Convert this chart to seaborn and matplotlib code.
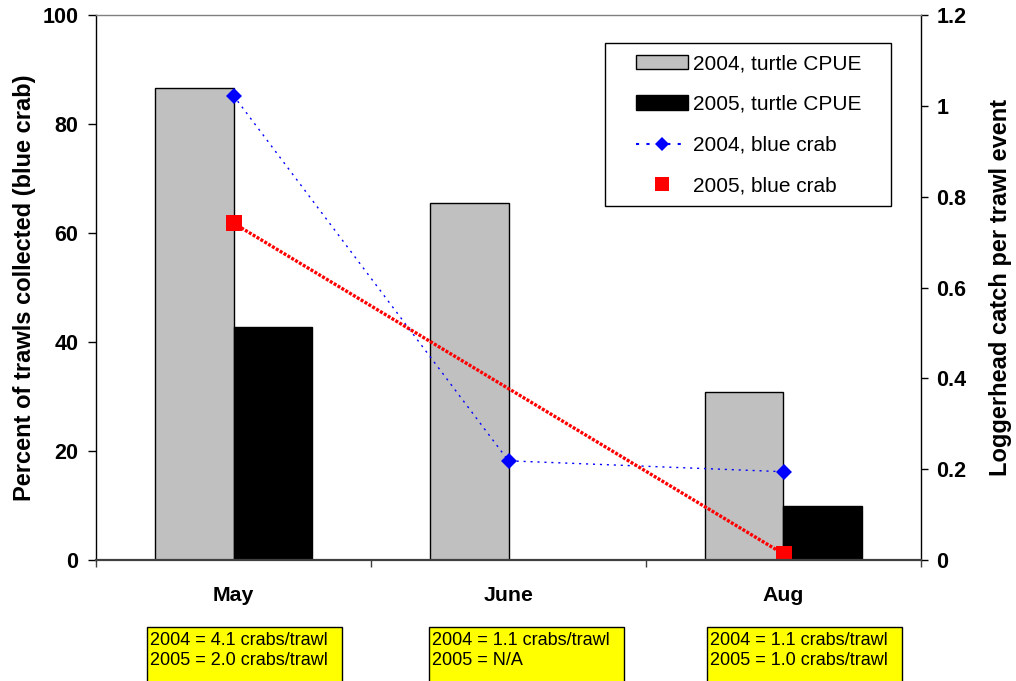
import numpy as np
import pandas as pd
import matplotlib
matplotlib.use("Agg")
import matplotlib.pyplot as plt
from matplotlib.patches import Patch, Rectangle
from matplotlib.lines import Line2D
from matplotlib.ticker import FuncFormatter
import seaborn as sns

# ---------------- data ----------------
months = ["May", "June", "Aug"]
turtle_cpue_2004 = [1.039, 0.786, 0.371]          # right axis
turtle_cpue_2005 = [0.514, np.nan, 0.120]         # right axis (June N/A)
blue_crab_2004 = [85.2, 18.2, 16.2]               # left axis, percent
blue_crab_2005 = [61.8, np.nan, 1.1]              # left axis, percent (June N/A)
left_ticks = [0, 20, 40, 60, 80, 100]
right_ticks = [0, 0.2, 0.4, 0.6, 0.8, 1.0, 1.2]
notes_2004 = ["2004 = 4.1 crabs/trawl", "2004 = 1.1 crabs/trawl", "2004 = 1.1 crabs/trawl"]
notes_2005 = ["2005 = 2.0 crabs/trawl", "2005 = N/A", "2005 = 1.0 crabs/trawl"]
legend_labels = ["2004, turtle CPUE", "2005, turtle CPUE", "2004, blue crab", "2005, blue crab"]
left_label = "Percent of trawls collected (blue crab)"
right_label = "Loggerhead catch per trawl event"

# ---------------- style ----------------
sns.set_style("ticks")
plt.rcParams["font.family"] = ["Liberation Sans", "DejaVu Sans"]
for k in ["text.color", "axes.labelcolor", "xtick.color", "ytick.color", "axes.edgecolor"]:
    plt.rcParams[k] = "black"

W, H = 1016, 681
fig = plt.figure(figsize=(W / 100, H / 100), dpi=100)
L, R, T, B = 96, 921, 15, 560
ax = fig.add_axes([L / W, (H - B) / H, (R - L) / W, (B - T) / H])
ax2 = ax.twinx()

# bars (right axis)
bars = pd.DataFrame({
    "month": months * 2,
    "year": ["2004"] * 3 + ["2005"] * 3,
    "cpue": turtle_cpue_2004 + turtle_cpue_2005,
}).dropna()
sns.barplot(data=bars, x="month", y="cpue", hue="year", order=months,
            hue_order=["2004", "2005"],
            palette={"2004": "#C0C0C0", "2005": "black"},
            edgecolor="black", linewidth=1.0, width=0.572, gap=0,
            errorbar=None, legend=False, ax=ax2)

# lines (left axis) at the categorical positions of the months
pos = {m: i for i, m in enumerate(months)}
crab04 = pd.DataFrame({"month": months, "pct": blue_crab_2004}).dropna()
crab05 = pd.DataFrame({"month": months, "pct": blue_crab_2005}).dropna()
crab04["pos"] = crab04["month"].map(pos)
crab05["pos"] = crab05["month"].map(pos)

blue_ls = (0, (1.5, 3.5))
red_ls = (0, (0.9, 0.45))
sns.lineplot(data=crab04, x="pos", y="pct", color="#0000FF", linestyle=blue_ls,
             linewidth=1.0, marker="D", markersize=8.2, markeredgewidth=0,
             errorbar=None, ax=ax)
sns.lineplot(data=crab05, x="pos", y="pct", color="#FF0000", linestyle=red_ls,
             linewidth=2.4, marker="s", markersize=11.5, markeredgewidth=0,
             errorbar=None, ax=ax)

ax.set_zorder(ax2.get_zorder() + 1)
ax.patch.set_visible(False)

# axes limits/ticks
ax.set_xlim(-0.5, len(months) - 0.5)
ax.set_ylim(0, 100)
ax2.set_ylim(0, 1.2)
ax.set_yticks(left_ticks)
ax2.set_yticks(right_ticks)
ax2.yaxis.set_major_formatter(FuncFormatter(lambda v, p: f"{v:g}"))
ax.set_xticks(range(len(months)), months)
ax.set_xticks(np.arange(len(months) + 1) - 0.5, minor=True)
ax.set_xlabel("")
ax2.set_xlabel("")

for lab in ax.get_yticklabels() + ax2.get_yticklabels():
    lab.set_fontsize(15.5)
    lab.set_fontweight("bold")
for lab in ax.get_xticklabels():
    lab.set_fontsize(15.3)
    lab.set_fontweight("bold")

ax.tick_params(axis="x", which="major", length=0, pad=19, bottom=True)
ax.tick_params(axis="x", which="minor", length=5, width=1, color="#404040",
               direction="out", bottom=True)
ax.tick_params(axis="y", which="major", length=5.8, width=1, color="black",
               direction="out", pad=7, left=True, right=False)
ax2.tick_params(axis="y", which="major", length=5, width=1, color="black",
                direction="out", pad=6, right=True, left=False)

# spines
for s in ["left", "right", "top", "bottom"]:
    ax2.spines[s].set_visible(False)
ax2.spines["right"].set_visible(True)
ax2.spines["right"].set_color("black")
ax2.spines["right"].set_linewidth(1.0)
ax.spines["right"].set_visible(False)
ax.spines["left"].set_color("black")
ax.spines["left"].set_linewidth(1.0)
ax.spines["top"].set_visible(True)
ax.spines["top"].set_color("#808080")
ax.spines["top"].set_linewidth(1.0)
ax.spines["bottom"].set_color("#404040")
ax.spines["bottom"].set_linewidth(1.6)

# axis labels
ax.set_ylabel(left_label, fontsize=17, fontweight="bold")
ax.yaxis.set_label_coords((36 - L) / (R - L), 0.5)
ax2.set_ylabel(right_label, fontsize=17, fontweight="bold")
ax2.yaxis.set_label_coords((989 - L) / (R - L), 0.5)

# legend
handles = [
    Patch(facecolor="#C0C0C0", edgecolor="black", linewidth=1.0),
    Patch(facecolor="black", edgecolor="black", linewidth=1.0),
    Line2D([], [], color="#0000FF", linestyle=blue_ls, linewidth=1.5,
           marker="D", markersize=7.1, markeredgewidth=0),
    Line2D([], [], color="#FF0000", linestyle="none", marker="s",
           markersize=10, markeredgewidth=0),
]
frame = Rectangle((605 / W, (H - 206) / H), (891 - 605) / W, (206 - 43) / H,
                  transform=fig.transFigure, facecolor="white",
                  edgecolor="black", linewidth=1.0, zorder=10, clip_on=False)
ax.add_patch(frame)
leg = ax.legend(handles, legend_labels, loc="upper left",
                bbox_to_anchor=(636 / W, (H - 54) / H), bbox_transform=fig.transFigure,
                frameon=False, borderpad=0, borderaxespad=0, fontsize=15,
                handlelength=2.5, handleheight=0.67, handletextpad=0.24,
                labelspacing=1.05)
leg.set_zorder(20)

# yellow note boxes under the months
box_left = [147, 429, 707]
box_w = 195
for x0, n4, n5 in zip(box_left, notes_2004, notes_2005):
    fig.patches.append(Rectangle((x0 / W, (H - 690) / H), box_w / W, (690 - 627) / H,
                                 transform=fig.transFigure, facecolor="#FFFF00",
                                 edgecolor="black", linewidth=1.0))
    fig.text((x0 + 3) / W, (H - 645) / H, n4, fontsize=13, va="baseline", ha="left")
    fig.text((x0 + 3) / W, (H - 665) / H, n5, fontsize=13, va="baseline", ha="left")

fig.savefig("out.png", dpi=100, facecolor="white")
